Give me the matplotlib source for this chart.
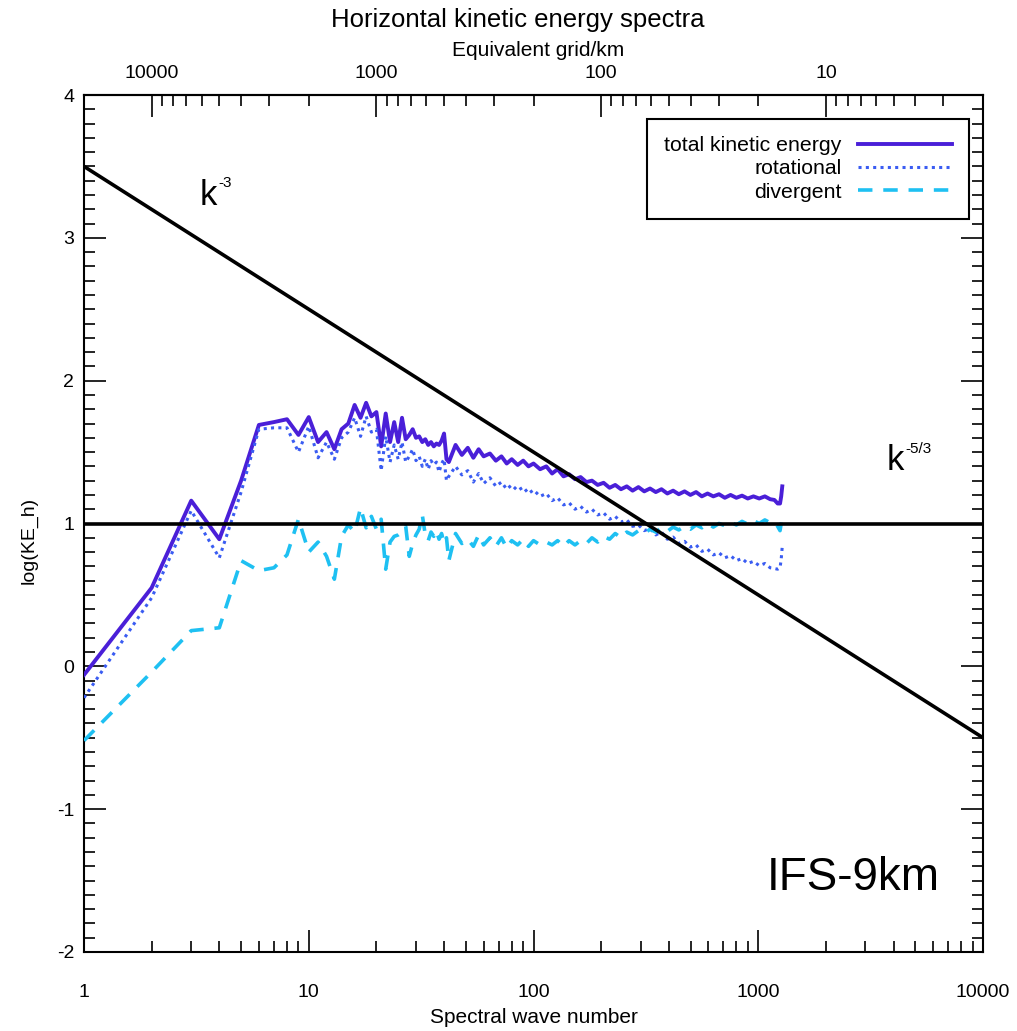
import matplotlib
matplotlib.use("Agg")
import matplotlib.pyplot as plt
from matplotlib.ticker import FixedLocator, MultipleLocator, NullFormatter, LogLocator

plt.rcParams['font.family'] = ['Liberation Sans', 'DejaVu Sans']
plt.rcParams['axes.unicode_minus'] = False

# ---------------- data ----------------
k_low = list(range(1, 42))
total_low = [-0.06, 0.55, 1.16, 0.89, 1.30, 1.69, 1.71, 1.73, 1.62, 1.745,
             1.57, 1.64, 1.52, 1.66, 1.70, 1.83, 1.74, 1.845, 1.75, 1.78,
             1.54, 1.77, 1.57, 1.71, 1.57, 1.74, 1.59, 1.62, 1.66, 1.60,
             1.61, 1.57, 1.59, 1.55, 1.57, 1.54, 1.56, 1.55, 1.58, 1.63, 1.45]
rot_low = [-0.22, 0.48, 1.09, 0.76, 1.22, 1.66, 1.67, 1.67, 1.50, 1.68,
           1.46, 1.57, 1.45, 1.60, 1.64, 1.74, 1.61, 1.75, 1.64, 1.66,
           1.37, 1.61, 1.43, 1.55, 1.45, 1.57, 1.43, 1.47, 1.52, 1.44,
           1.47, 1.40, 1.45, 1.38, 1.44, 1.41, 1.43, 1.36, 1.42, 1.45, 1.30]
div_low = [-0.52, -0.04, 0.25, 0.27, 0.74, 0.67, 0.69, 0.78, 1.03, 0.80,
           0.87, 0.77, 0.61, 0.91, 0.99, 0.94, 1.11, 0.97, 1.05, 0.96,
           1.03, 0.68, 0.87, 0.91, 0.92, 0.94, 0.98, 0.77, 0.86, 0.92,
           0.96, 1.06, 0.92, 0.88, 0.94, 0.91, 0.95, 0.89, 0.93, 0.86, 0.90]

k_high = [42, 45, 48, 51, 54, 57, 60, 64, 68, 72, 76, 80, 85, 90, 95, 100,
          107, 114, 121, 128, 136, 144, 153, 162, 172, 182, 193, 205, 218, 231,
          245, 260, 276, 293, 311, 330, 350, 371, 394, 418, 443, 470, 499, 529,
          561, 595, 631, 669, 710, 753, 799, 847, 898, 952, 1010, 1070, 1130,
          1180, 1220, 1250, 1265, 1279]
total_high = [1.43, 1.55, 1.48, 1.53, 1.46, 1.52, 1.47, 1.49, 1.44, 1.47,
              1.42, 1.45, 1.41, 1.44, 1.40, 1.42, 1.38, 1.40, 1.35, 1.38,
              1.33, 1.345, 1.31, 1.325, 1.29, 1.30, 1.27, 1.285, 1.25, 1.27,
              1.24, 1.26, 1.23, 1.255, 1.225, 1.245, 1.22, 1.24, 1.21, 1.23,
              1.205, 1.225, 1.20, 1.22, 1.19, 1.21, 1.19, 1.205, 1.18, 1.20,
              1.18, 1.195, 1.175, 1.19, 1.175, 1.19, 1.17, 1.165, 1.14, 1.14,
              1.19, 1.26]
rot_high = [1.33, 1.40, 1.34, 1.37, 1.29, 1.35, 1.28, 1.32, 1.26, 1.29,
            1.24, 1.27, 1.23, 1.255, 1.21, 1.235, 1.19, 1.21, 1.16, 1.18,
            1.13, 1.145, 1.10, 1.12, 1.08, 1.10, 1.06, 1.075, 1.03, 1.05,
            1.01, 1.025, 0.98, 0.99, 0.95, 0.965, 0.92, 0.94, 0.89, 0.905,
            0.86, 0.875, 0.835, 0.85, 0.805, 0.82, 0.78, 0.795, 0.76, 0.775,
            0.74, 0.755, 0.72, 0.735, 0.705, 0.72, 0.69, 0.685, 0.68, 0.69,
            0.75, 0.84]
div_high = [0.74, 0.93, 0.86, 0.89, 0.84, 0.92, 0.85, 0.90, 0.84, 0.90,
            0.83, 0.88, 0.85, 0.89, 0.84, 0.88, 0.85, 0.87, 0.85, 0.88,
            0.84, 0.88, 0.85, 0.88, 0.86, 0.90, 0.87, 0.91, 0.89, 0.93,
            0.90, 0.94, 0.92, 0.95, 0.93, 0.96, 0.94, 0.97, 0.945, 0.975,
            0.955, 0.98, 0.96, 0.99, 0.97, 1.0, 0.975, 1.0, 0.985, 1.01,
            0.99, 1.015, 0.995, 1.02, 1.0, 1.025, 1.005, 1.01, 0.98, 0.95,
            1.0, 1.04]

k = k_low + k_high
total = total_low + total_high
rotational = rot_low + rot_high
divergent = div_low + div_high

# reference slopes
k3_x = [1, 10000]
k3_y = [3.5, -0.5]
k53_x = [1, 10000]
k53_y = [1.0, 1.0]

series_labels = ['total kinetic energy', 'rotational', 'divergent']
x_ticks = [1, 10, 100, 1000, 10000]
x_ticklabels = ['1', '10', '100', '1000', '10000']
top_ticks = [10000, 1000, 100, 10]
top_ticklabels = ['10000', '1000', '100', '10']
y_ticks = [-2, -1, 0, 1, 2, 3, 4]
y_ticklabels = ['-2', '-1', '0', '1', '2', '3', '4']
GRID_CONST = 20000.0   # equivalent grid (km) = GRID_CONST / k

# ---------------- figure ----------------
W, H = 1017, 1031
fig = plt.figure(figsize=(W / 100, H / 100), dpi=100)
L, R, T, B = 84, 983, 95, 952
ax = fig.add_axes([L / W, 1 - B / H, (R - L) / W, (B - T) / H])

c_tot = '#4a1fd8'
c_rot = '#3a5cf2'
c_div = '#1ec0f2'

ax.plot(k, total, color=c_tot, lw=2.8, label=series_labels[0], zorder=3)
ax.plot(k, rotational, color=c_rot, lw=2.2, ls=(0, (1, 1.4)),
        label=series_labels[1], zorder=3)
ax.plot(k, divergent, color=c_div, lw=2.6, ls=(0, (4, 3)),
        label=series_labels[2], zorder=3)
ax.plot(k3_x, k3_y, color='black', lw=2.6, zorder=4)
ax.plot(k53_x, k53_y, color='black', lw=2.6, zorder=4)

ax.set_xscale('log')
ax.set_xlim(1, 10000)
ax.set_ylim(-2, 4)

ax.set_xticks(x_ticks, labels=x_ticklabels)
ax.xaxis.set_minor_locator(LogLocator(base=10, subs=[2, 3, 4, 5, 6, 7, 8, 9], numticks=20))
ax.xaxis.set_minor_formatter(NullFormatter())
ax.set_yticks(y_ticks, labels=y_ticklabels)
ax.yaxis.set_minor_locator(MultipleLocator(0.1))

for s in ax.spines.values():
    s.set_linewidth(1.5)

ax.tick_params(which='both', direction='in', top=False, right=True,
               labelsize=14, width=1.2)
ax.tick_params(which='major', length=16)
ax.tick_params(which='minor', length=8)
ax.tick_params(axis='x', pad=23)
ax.tick_params(axis='y', pad=7)

sec = ax.secondary_xaxis('top', functions=(lambda x: GRID_CONST / x,
                                           lambda g: GRID_CONST / g))
sec.set_xticks(top_ticks, labels=top_ticklabels)
minor_top = [m * 10 ** e for e in range(0, 5) for m in range(2, 10)
             if 2 <= m * 10 ** e <= 20000]
sec.xaxis.set_minor_locator(FixedLocator(minor_top))
sec.xaxis.set_minor_formatter(NullFormatter())
sec.tick_params(which='both', direction='in', labelsize=14, width=1.2, pad=9)
sec.tick_params(which='major', length=16)
sec.tick_params(which='minor', length=8)
sec.spines['top'].set_linewidth(1.5)

fig.text(538 / W, 1 - 50 / H, 'Equivalent grid/km', fontsize=15,
         ha='center', va='center')
ax.set_xlabel('Spectral wave number', fontsize=15)
ax.xaxis.set_label_coords(0.5, (B - 1008) / (B - T))
ax.set_ylabel('log(KE_h)', fontsize=14)
ax.yaxis.set_label_coords((38 - L) / (R - L), (B - 540) / (B - T))

fig.text(518 / W, 1 - 8 / H, 'Horizontal kinetic energy spectra',
         fontsize=18.5, ha='center', va='top')

leg = ax.legend(loc='upper right', bbox_to_anchor=((969 - L) / (R - L), (B - 119) / (B - T)),
                markerfirst=False, alignment='right', frameon=True, fancybox=False,
                edgecolor='black', framealpha=1, handlelength=4.4, handletextpad=0.8,
                borderpad=0.8, labelspacing=0.2, borderaxespad=0, fontsize=15.3)
leg.get_frame().set_linewidth(1.5)

def ax_pt(px, py):
    return ((px - L) / (R - L), (B - py) / (B - T))

ax.text(*ax_pt(200, 205), 'k', fontsize=25, ha='left', va='baseline', transform=ax.transAxes)
ax.text(*ax_pt(218, 187), '-3', fontsize=11, ha='left', va='baseline', transform=ax.transAxes)
ax.text(*ax_pt(887, 470), 'k', fontsize=25, ha='left', va='baseline', transform=ax.transAxes)
ax.text(*ax_pt(905, 453), '-5/3', fontsize=11, ha='left', va='baseline', transform=ax.transAxes)
ax.text(*ax_pt(767, 890), 'IFS-9km', fontsize=33, ha='left', va='baseline', transform=ax.transAxes)

fig.savefig('out.png', dpi=100)
